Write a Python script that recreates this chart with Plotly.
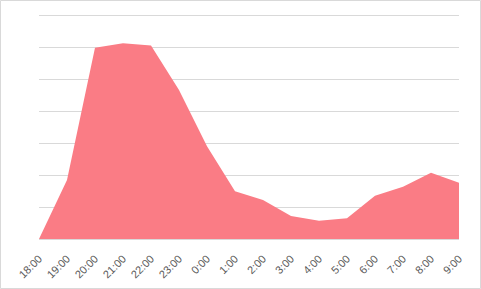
import plotly.graph_objects as go

hours = ["18:00", "19:00", "20:00", "21:00", "22:00", "23:00", "0:00", "1:00",
         "2:00", "3:00", "4:00", "5:00", "6:00", "7:00", "8:00", "9:00"]
values = [0, 1.84, 5.98, 6.12, 6.05, 4.66, 2.9, 1.49,
          1.22, 0.72, 0.57, 0.65, 1.35, 1.63, 2.07, 1.76]

W, H = 481, 289
L, R, T, B = 39, 22, 13, 50
pw, ph = W - L - R, H - T - B

fig = go.Figure()
fig.add_trace(go.Scatter(
    x=hours, y=values, mode="lines", fill="tozeroy",
    line=dict(width=0, color="rgb(250,124,133)"),
    fillcolor="rgb(250,124,133)", hoverinfo="skip", showlegend=False,
))

fig.update_layout(
    width=W, height=H,
    margin=dict(l=L, r=R, t=T, b=B, autoexpand=False),
    paper_bgcolor="white", plot_bgcolor="white",
    xaxis=dict(
        type="category", range=[0, len(hours) - 1], automargin=False,
        tickangle=-45, showgrid=False, zeroline=False,
        showline=True, linecolor="#d9d9d9", linewidth=1,
        tickfont=dict(family="Liberation Sans", size=11, color="#595959"),
        ticks="outside", ticklen=8, tickcolor="rgba(0,0,0,0)",
    ),
    yaxis=dict(
        range=[0, 7 + 2 / 32], tickvals=[1, 2, 3, 4, 5, 6, 7], automargin=False,
        showgrid=True, gridcolor="#d9d9d9", gridwidth=1,
        showticklabels=False, zeroline=False, ticks="",
    ),
    shapes=[dict(
        type="rect", xref="paper", yref="paper",
        x0=(0.5 - L) / pw, x1=(480.5 - L) / pw,
        y0=(T + ph - 288.5) / ph, y1=(T + ph - 0.5) / ph,
        line=dict(color="#d9d9d9", width=1), fillcolor="rgba(0,0,0,0)",
        layer="below",
    )],
)

fig.write_html("out.html")
